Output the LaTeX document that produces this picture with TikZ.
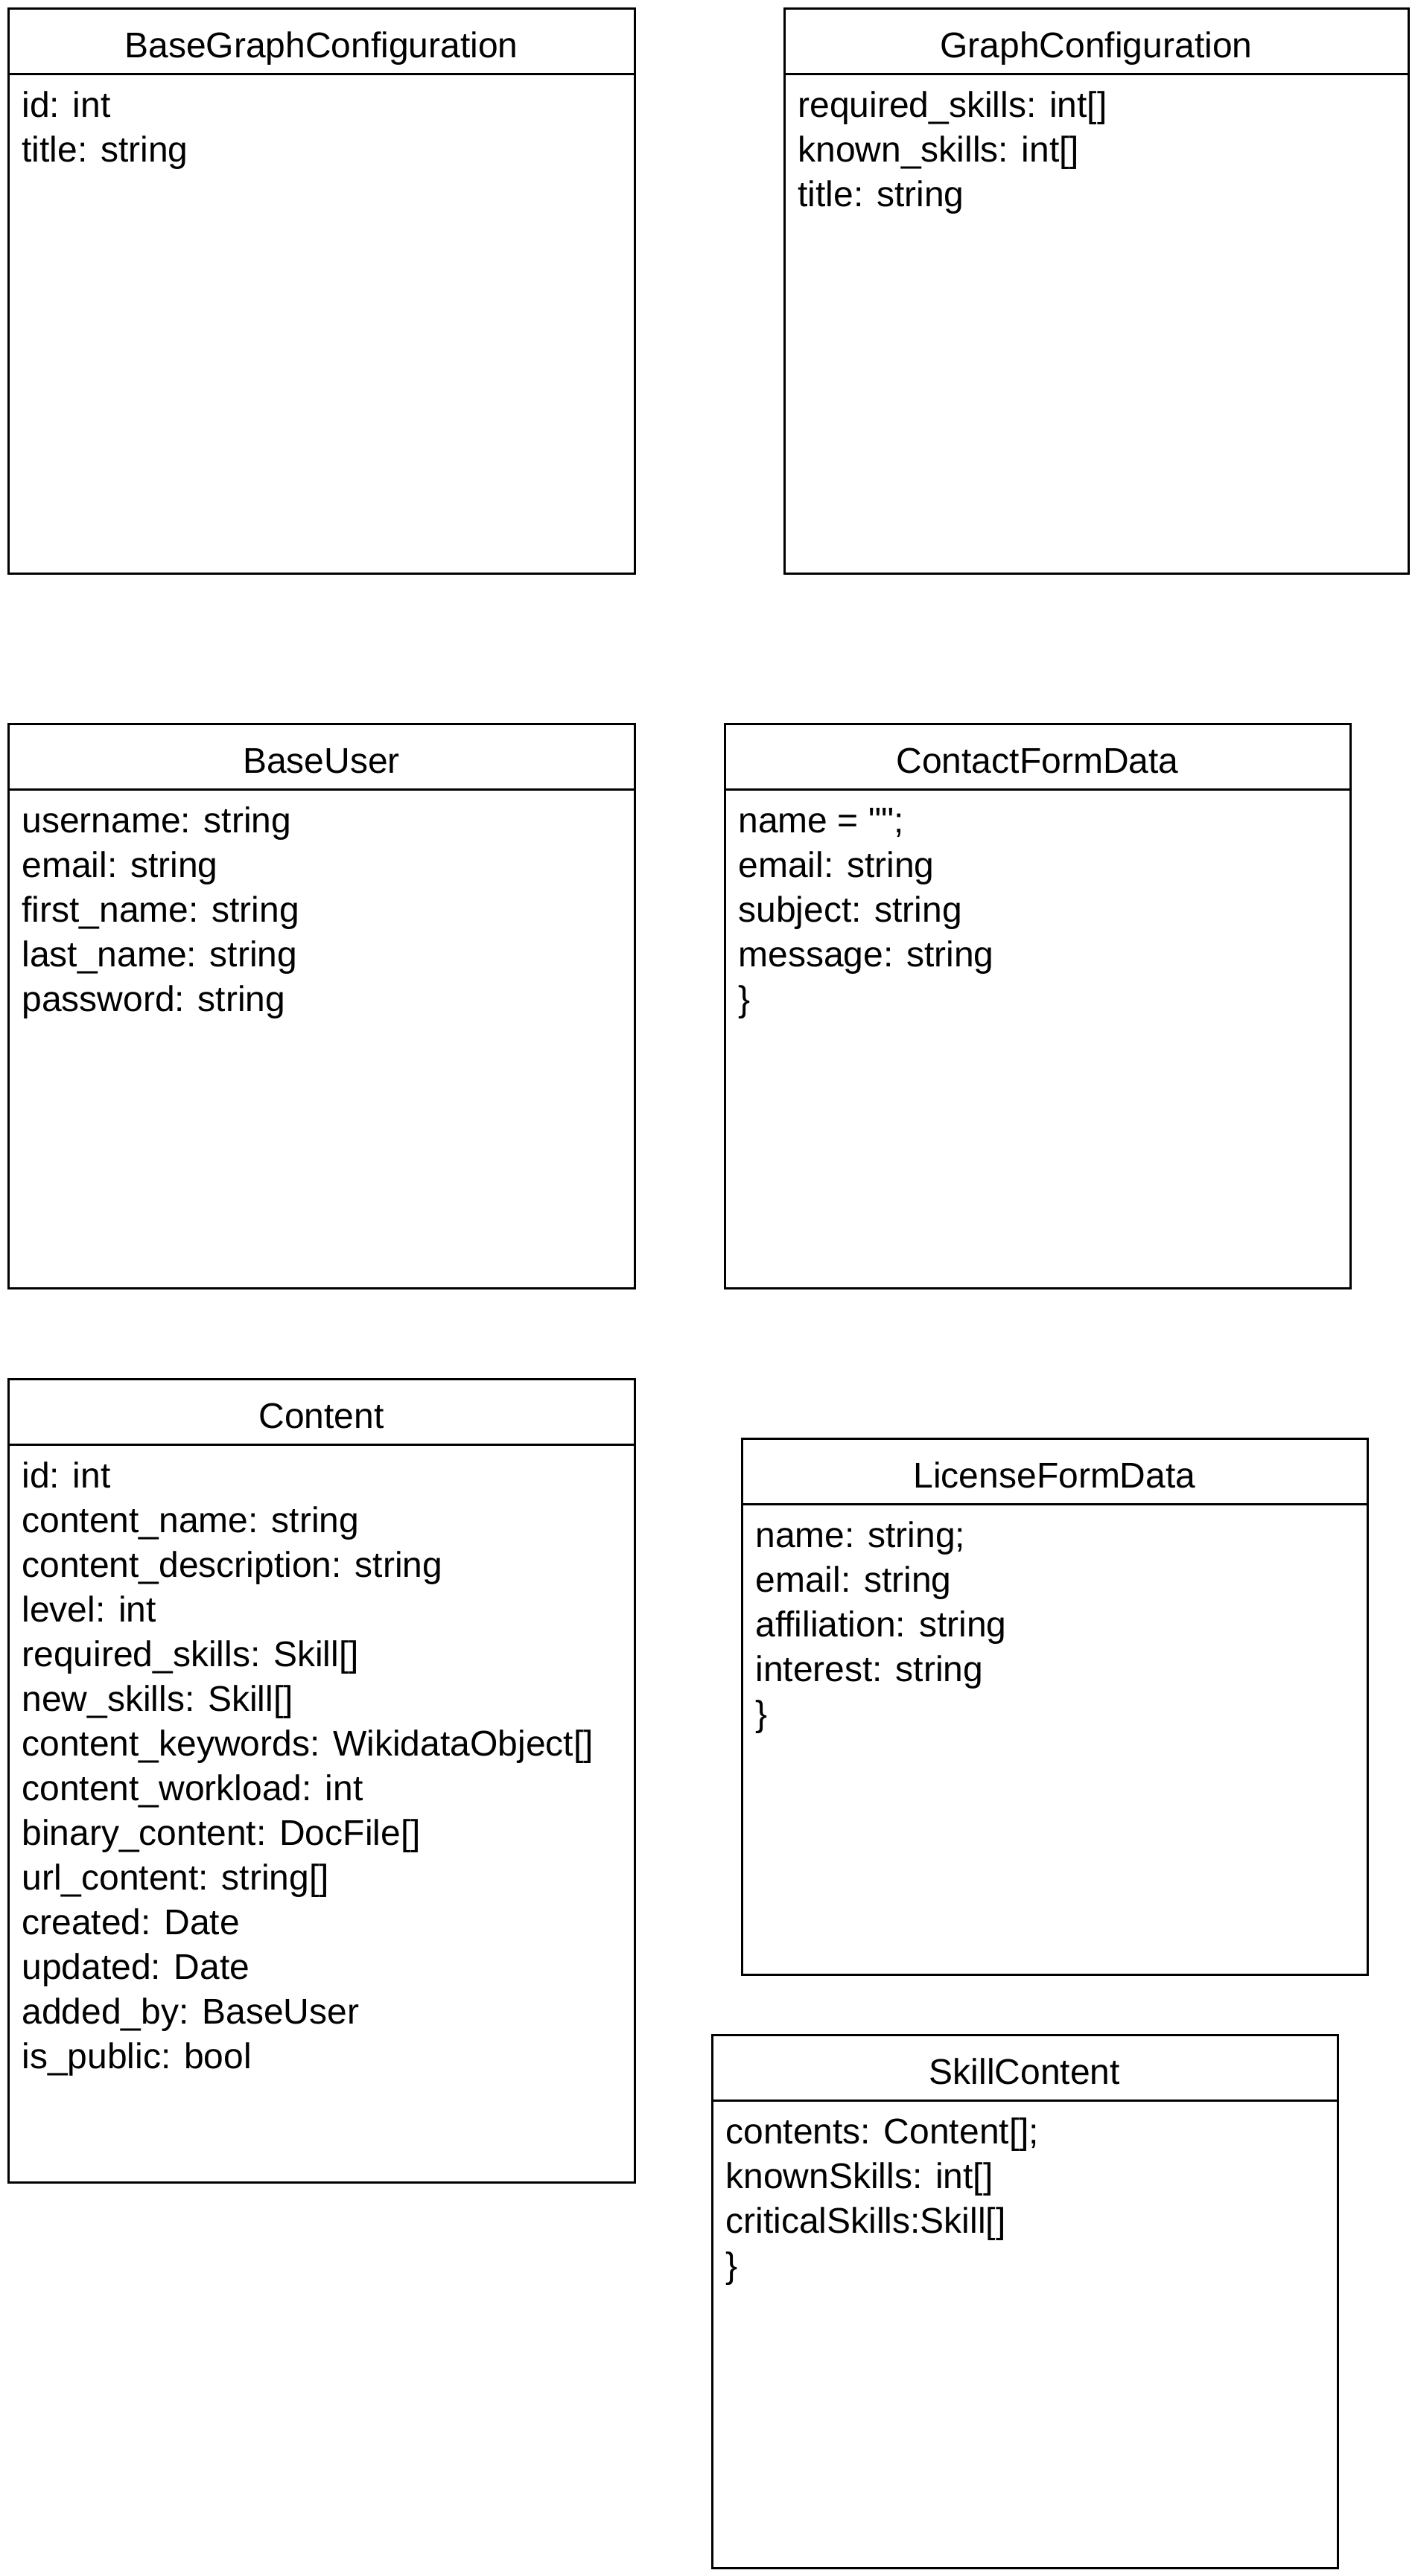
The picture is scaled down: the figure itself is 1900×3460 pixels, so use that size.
\documentclass[tikz,border=0pt]{standalone}
\usepackage{fontspec}
\setmainfont{Liberation Sans}
% same face without TeX ligatures, so straight double quotes stay straight
\newfontfamily\plainquotes{Liberation Sans}[Ligatures=TeXOff]
\usetikzlibrary{calc}

% One UML class: name, left, top, width, height, title, attribute rows
\newcommand\umlclass[7]{%
  \node[classframe, minimum width=#4*0.5pt, minimum height=#5*0.5pt] (#1) at (#2,#3) {};
  \draw[classline] ($(#1.north west)+(0,88)$) -- ($(#1.north east)+(0,88)$);
  \node[classtitle] (#1-title) at ($(#1.north)+(0,66)$) {#6};
  \node[classbody] (#1-attrs) at ($(#1.north west)+(18,146)$)
    {\begin{tabular}[t]{@{}l@{}}#7\end{tabular}};
}

\begin{document}
\begin{tikzpicture}[x=0.5pt, y=-0.5pt,
  classframe/.style={draw=black, line width=1.5pt, fill=white, anchor=north west,
    inner sep=0pt, outer sep=0pt},
  classline/.style={draw=black, line width=1.5pt},
  classtitle/.style={inner sep=0pt, anchor=base, font=\fontsize{24}{30}\selectfont},
  classbody/.style={inner sep=0pt, anchor=base west, font=\fontsize{24}{30}\selectfont}]
\useasboundingbox[fill=white] (0,0) rectangle (1900,3460);

\umlclass{bgc}{11}{11}{841}{759}{BaseGraphConfiguration}
  {id: int\\ title: string}
\umlclass{gc}{1053}{11}{838}{759}{GraphConfiguration}
  {required\_skills: int[]\\ known\_skills: int[]\\ title: string}
\umlclass{bu}{11}{972}{841}{758}{BaseUser}
  {username: string\\ email: string\\ first\_name: string\\ last\_name: string\\ password: string}
\umlclass{cfd}{973}{972}{840}{758}{ContactFormData}
  {name = {\plainquotes ""};\\ email: string\\ subject: string\\ message: string\\ \}}
\umlclass{content}{11}{1852}{841}{1079}{Content}
  {id: int\\ content\_name: string\\ content\_description: string\\ level: int\\
   required\_skills: Skill[]\\ new\_skills: Skill[]\\ content\_keywords: WikidataObject[]\\
   content\_workload: int\\ binary\_content: DocFile[]\\ url\_content: string[]\\
   created: Date\\ updated: Date\\ added\_by: BaseUser\\ is\_public: bool}
\umlclass{lfd}{996}{1932}{840}{720}{LicenseFormData}
  {name: string;\\ email: string\\ affiliation: string\\ interest: string\\ \}}
\umlclass{sc}{956}{2733}{840}{716}{SkillContent}
  {contents: Content[];\\ knownSkills: int[]\\ criticalSkills:Skill[]\\ \}}
\end{tikzpicture}
\end{document}
